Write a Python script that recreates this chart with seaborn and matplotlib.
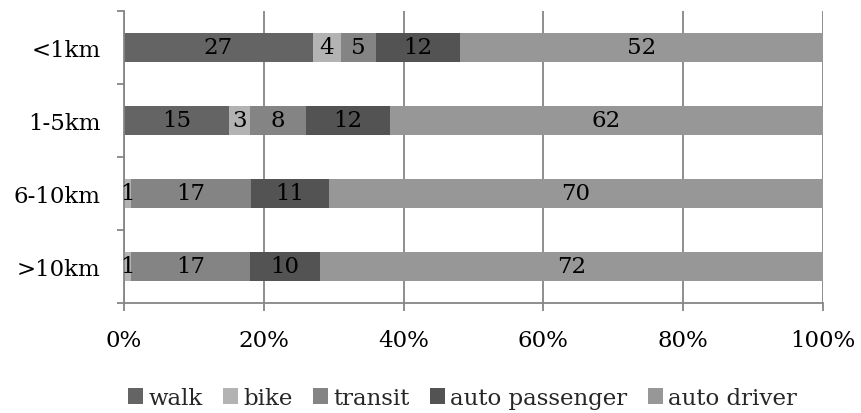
import matplotlib
matplotlib.use("Agg")
import matplotlib.pyplot as plt
from matplotlib.patches import Patch
from matplotlib.ticker import FixedLocator, PercentFormatter
import pandas as pd
import seaborn as sns

# Trip distance bands and travel modes
distances = ["<1km", "1-5km", "6-10km", ">10km"]
modes = ["walk", "bike", "transit", "auto passenger", "auto driver"]

# Mode share (%) for each distance band
walk = [27, 15, 0, 0]
bike = [4, 3, 1, 1]
transit = [5, 8, 17, 17]
auto_passenger = [12, 12, 11, 10]
auto_driver = [52, 62, 70, 72]

x_ticks = [0, 20, 40, 60, 80, 100]
colors = ["#646464", "#b3b3b3", "#848484", "#535353", "#979797"]
axis_grey = "#868686"
FS = 16.5

sns.set_style("white")
plt.rcParams["font.family"] = ["DejaVu Serif"]

df = pd.DataFrame({
    "distance": distances,
    "walk": walk,
    "bike": bike,
    "transit": transit,
    "auto passenger": auto_passenger,
    "auto driver": auto_driver,
})
counts = df[modes]
# 100% stacked: normalise each row to its total
shares = counts.div(counts.sum(axis=1), axis=0) * 100
cum = shares.cumsum(axis=1)
plot_df = pd.concat([df[["distance"]], cum], axis=1)

fig = plt.figure(figsize=(8.62, 4.14), dpi=100)
ax = fig.add_axes([124 / 862, 1 - 304 / 414, (823 - 124) / 862, (304 - 12) / 414])

# Draw cumulative bars from the back (largest) to the front
for mode, col in reversed(list(zip(modes, colors))):
    sns.barplot(data=plot_df, x=mode, y="distance", order=distances, orient="y",
                color=col, saturation=1, width=0.4, linewidth=0, ax=ax, zorder=2)

# Segment value labels
for r in range(len(distances)):
    for mode in modes:
        v = counts.loc[r, mode]
        if v > 0:
            xc = cum.loc[r, mode] - shares.loc[r, mode] / 2
            ax.text(xc, r, f"{v}", ha="center", va="center", fontsize=FS,
                    color="black", zorder=3)

ax.set_xlim(0, 100)
ax.set_ylim(3.5, -0.5)
ax.set_xlabel("")
ax.set_ylabel("")

ax.xaxis.set_major_locator(FixedLocator(x_ticks))
ax.xaxis.set_major_formatter(PercentFormatter(decimals=0))
ax.grid(axis="x", color=axis_grey, linewidth=1.3)
ax.grid(axis="y", visible=False)
ax.set_axisbelow(True)

for side in ("top", "right"):
    ax.spines[side].set_visible(False)
for side in ("left", "bottom"):
    ax.spines[side].set_color(axis_grey)
    ax.spines[side].set_linewidth(1.3)

ax.tick_params(axis="x", which="major", bottom=True, length=6, width=1.3,
               color=axis_grey, direction="out", pad=13, labelsize=FS,
               labelcolor="black")
ax.tick_params(axis="y", which="major", left=True, length=0, pad=17,
               labelsize=FS, labelcolor="black")
ax.yaxis.set_minor_locator(FixedLocator([-0.5, 0.5, 1.5, 2.5, 3.5]))
ax.tick_params(axis="y", which="minor", left=True, length=5, width=1.3,
               color=axis_grey, direction="out")

handles = [Patch(facecolor=c, edgecolor="none") for c in colors]
fig.legend(handles, modes, loc="center", bbox_to_anchor=(0.5366, 0.036), ncol=5,
           frameon=False, fontsize=FS, handlelength=0.65, handleheight=0.65,
           handletextpad=0.22, columnspacing=0.9, borderaxespad=0)

fig.savefig("out.png", dpi=100)
